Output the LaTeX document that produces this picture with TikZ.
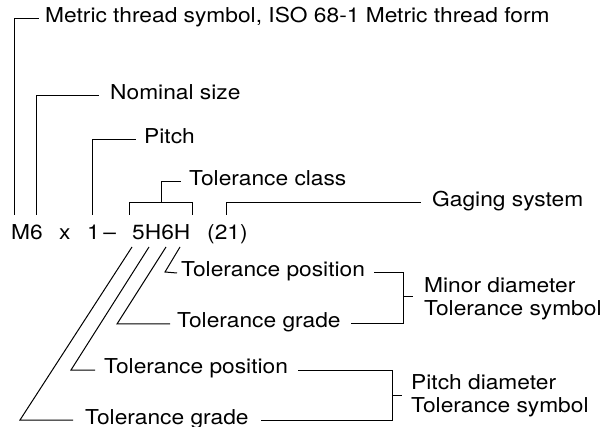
\documentclass[tikz,border=0pt]{standalone}
\usepackage{fontspec}
\setmainfont{TeX Gyre Heros}[FakeStretch=1.11]
\usetikzlibrary{calc,positioning}

\begin{document}
\begin{tikzpicture}[
    x=1pt, y=-1pt,
    lead/.style={line width=1pt, draw=black},
    lbl/.style={
      anchor=west, inner sep=0pt,
      text height=0.9em, text depth=0.1em,
      font=\fontsize{20.5}{23}\selectfont
    },
    twoline/.style={
      anchor=west, inner sep=0pt, align=left,
      font=\fontsize{20.5}{23}\selectfont
    },
    code/.style={anchor=base west, inner sep=0pt, font=\fontsize{20.5}{23}\selectfont}
  ]
  \useasboundingbox (0,0) rectangle (602,427);

  % Designation
  \node[code] (m6)    at (11,240)  {M6};
  \node[code] (times) at (59,240)  {x};
  \node[code] (pit)   at (87,240)  {1\,–};
  \node[code] (tol)   at (132,240) {5H6H};
  \node[code] (gag)   at (207,240) {(21)};

  % Labels above
  \node[lbl] (metric)  at (45,19)  {Metric thread symbol, ISO 68-1 Metric thread form};
  \node[lbl] (nominal) at (110,96) {Nominal size};
  \node[lbl] (pitch)   at (144,140) {Pitch};
  \node[lbl] (tclass)  at (189,182) {Tolerance class};
  \node[lbl] (gaging)  at (432,203) {Gaging system};

  % Labels below
  \node[lbl] (minpos)   at (181,273) {Tolerance position};
  \node[lbl] (mingrade) at (177,324) {Tolerance grade};
  \node[lbl] (pitpos)   at (104,370) {Tolerance position};
  \node[lbl] (pitgrade) at (85,420)  {Tolerance grade};
  \node[twoline] (minsym) at (424,299) {Minor diameter\\Tolerance symbol};
  \node[twoline] (pitsym) at (411,396) {Pitch diameter\\Tolerance symbol};

  % Feet of the leaders
  \coordinate (fM)  at (14,215);
  \coordinate (f6)  at (36,215);
  \coordinate (f1)  at (92,215);
  \coordinate (fTa) at (129,215);
  \coordinate (fTb) at (192,215);
  \coordinate (fG)  at (226,215);
  \coordinate (d1) at (132,247);
  \coordinate (d2) at (149,247);
  \coordinate (d3) at (166,247);
  \coordinate (d4) at (180,247);

  % Leaders above
  \draw[lead] (fM) |- ([xshift=-6]metric.west);
  \draw[lead] (f6) |- ([xshift=-11]nominal.west);
  \draw[lead] (f1) |- ([xshift=-8]pitch.west);
  \draw[lead] (fTa) |- (fTb |- 0,203) -- (fTb);
  \draw[lead] (161,203) |- ([xshift=-8]tclass.west);
  \draw[lead] (fG) |- ([xshift=-11]gaging.west);

  % Slanted leaders below
  \draw[lead] (d4) -- (165,272) -- ([xshift=-4]minpos.west);
  \draw[lead] (d3) -- (117,324) -- ([xshift=-7]mingrade.west);
  \draw[lead] (d2) -- (71,370)  -- ([xshift=-9]pitpos.west);
  \draw[lead] (d1) -- (20,420)  -- ([xshift=-12]pitgrade.west);

  % Brackets
  \coordinate (brM) at (403,324);
  \coordinate (brP) at (392,420);
  \draw[lead] ([xshift=9]minpos.east) -| (brM) -- ([xshift=10]mingrade.east);
  \draw[lead] (brM |- 0,297) -- (413,297);
  \draw[lead] ([xshift=10]pitpos.east) -| (brP) -- ([xshift=12]pitgrade.east);
  \draw[lead] (brP |- 0,395) -- (402,395);

\end{tikzpicture}
\end{document}
